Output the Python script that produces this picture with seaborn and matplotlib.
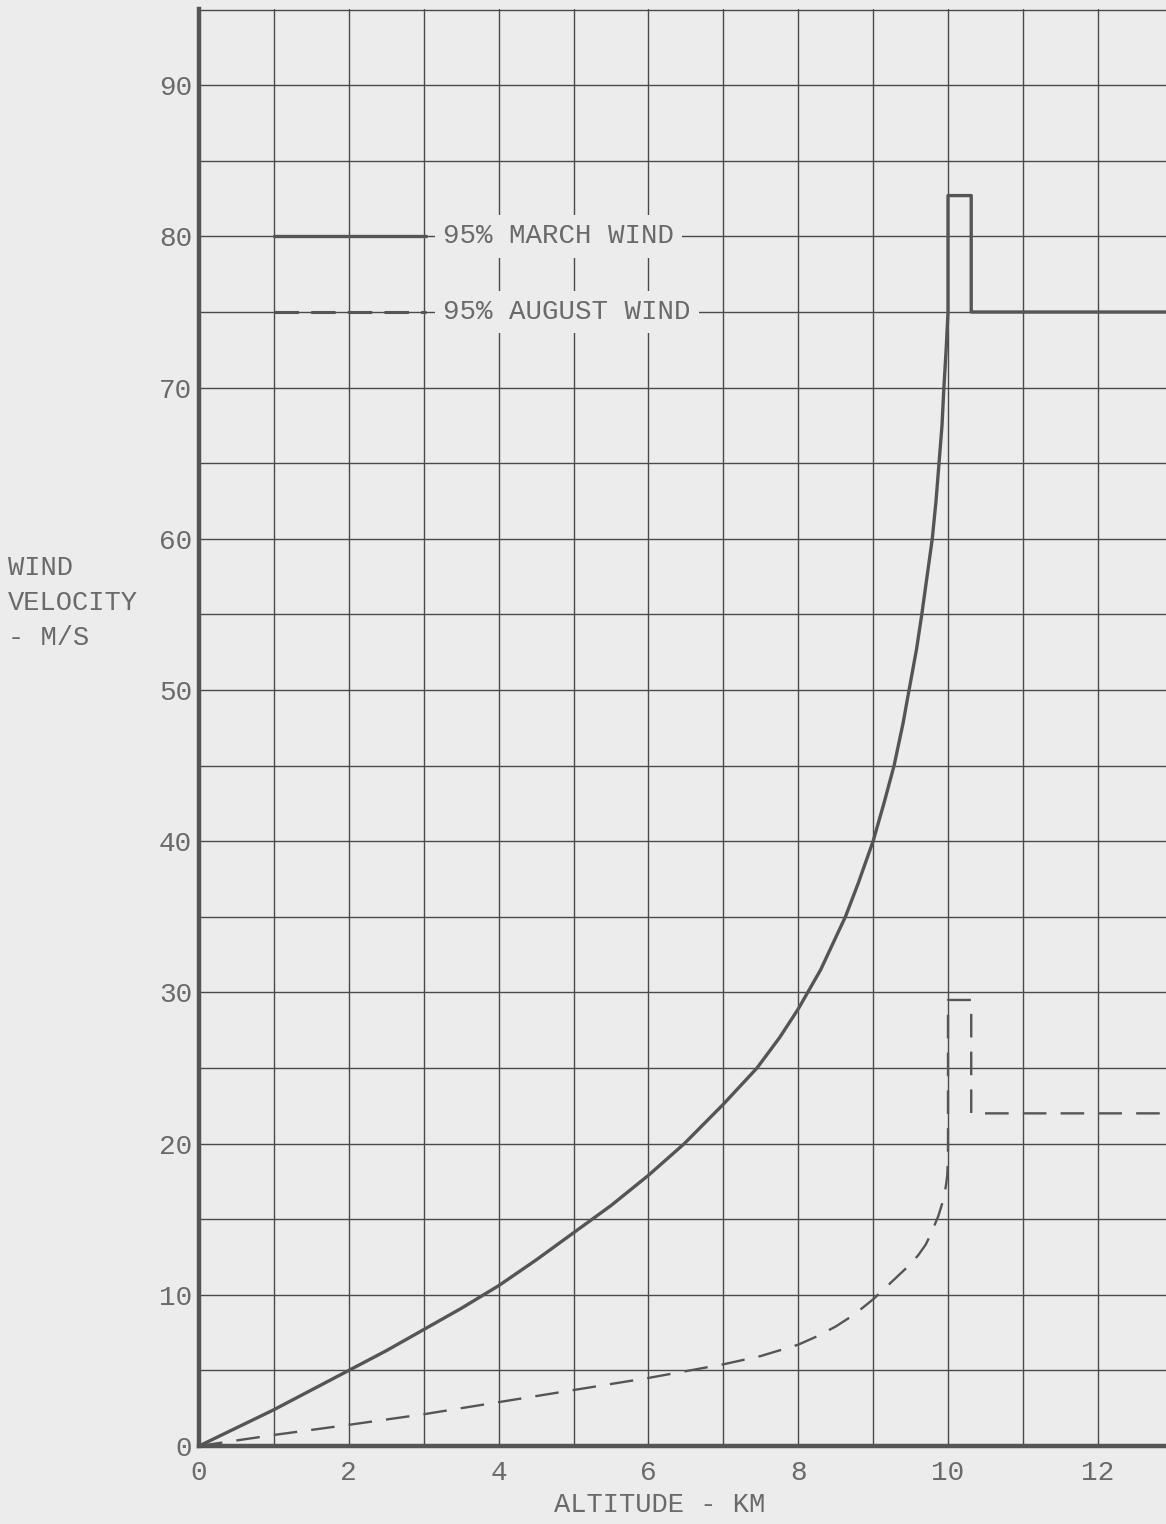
import numpy as np
import pandas as pd
import matplotlib
matplotlib.use("Agg")
import matplotlib.pyplot as plt
import seaborn as sns

# Altitude (km) and 95% wind velocity (m/s) profiles
march_altitude = [0, 0.5, 1, 1.5, 2, 2.5, 3, 3.5, 4, 4.5, 5, 5.5, 6, 6.48, 7, 7.45, 7.75,
                  8, 8.3, 8.63, 8.8, 9, 9.15, 9.28, 9.4, 9.48, 9.58, 9.65, 9.72, 9.79,
                  9.84, 9.88, 9.92, 9.945, 9.975, 10.0, 10.0, 10.31, 10.31, 13.0]
march_velocity = [0, 1.2, 2.4, 3.7, 5.0, 6.3, 7.7, 9.1, 10.6, 12.3, 14.1, 15.9, 17.9, 20,
                  22.6, 25, 27.0, 28.9, 31.5, 35, 37.2, 40, 42.6, 45, 47.8, 50, 52.7, 55,
                  57.5, 60, 62.5, 65, 67.5, 70, 72.5, 75, 82.7, 82.7, 75, 75]

august_altitude = [0, 1, 2, 3, 4, 5, 6, 7, 7.5, 8, 8.25, 8.5, 8.75, 9, 9.15, 9.3, 9.45,
                   9.6, 9.7, 9.76, 9.82, 9.87, 9.92, 9.95, 9.975, 9.99, 10.0, 10.0,
                   10.31, 10.31, 13.0]
august_velocity = [0, 0.73, 1.4, 2.1, 2.9, 3.7, 4.5, 5.4, 5.95, 6.7, 7.25, 7.9, 8.7, 9.7,
                   10.4, 11.1, 11.8, 12.6, 13.3, 13.9, 14.6, 15.2, 16.0, 16.6, 17.3,
                   17.9, 19.0, 29.5, 29.5, 22.0, 22.0]

x_ticks = [0, 2, 4, 6, 8, 10, 12]
y_ticks = [0, 10, 20, 30, 40, 50, 60, 70, 80, 90]
legend_labels = ["95% MARCH WIND", "95% AUGUST WIND"]
legend_levels = [80, 75]

BG = "#ececec"
INK = "#555555"
TXT = "#6a6a6a"

sns.set_theme(style="white")
plt.rcParams["font.family"] = ["Liberation Mono", "DejaVu Sans Mono"]

fig = plt.figure(figsize=(11.66, 15.24), dpi=100, facecolor=BG)
W, H = 1166, 1524
x0, y0, ytop = 199, 1446, 9
ax = fig.add_axes([x0 / W, 1 - y0 / H, 1 - x0 / W, (y0 - ytop) / H])
ax.set_facecolor(BG)

ax.set_xlim(0, (W - x0) / 74.9)
ax.set_ylim(0, (y0 - ytop) / 15.12)

# Grid: 1 km by 5 m/s
ax.set_xticks(x_ticks)
ax.set_xticks(np.arange(1, 13, 2), minor=True)
ax.set_yticks(y_ticks)
ax.set_yticks(np.arange(5, 100, 10), minor=True)
ax.grid(True, which="both", color="#4a4a4a", linewidth=1.0, zorder=1)
ax.set_axisbelow(True)
ax.tick_params(which="both", length=0)
ax.tick_params(axis="y", pad=5, labelsize=20, labelcolor=TXT)
ax.tick_params(axis="x", pad=10, labelsize=20, labelcolor=TXT)

for side in ["top", "right"]:
    ax.spines[side].set_visible(False)
for side in ["left", "bottom"]:
    ax.spines[side].set_color(INK)
    ax.spines[side].set_linewidth(3.2)
    ax.spines[side].set_zorder(5)

march = pd.DataFrame({"alt": march_altitude, "vel": march_velocity})
august = pd.DataFrame({"alt": august_altitude, "vel": august_velocity})

sns.lineplot(data=march, x="alt", y="vel", sort=False, estimator=None, ax=ax,
             color=INK, linewidth=2.4, zorder=4, solid_joinstyle="round")
sns.lineplot(data=august, x="alt", y="vel", sort=False, estimator=None, ax=ax,
             color=INK, linewidth=1.7, zorder=4, linestyle=(0, (10, 6)))

ax.set_xlabel("")
ax.set_ylabel("")

# Key
ax.plot([1.0, 3.03], [legend_levels[0]] * 2, color=INK, linewidth=2.4, zorder=3)
ax.plot([1.0, 3.03], [legend_levels[1]] * 2, color=INK, linewidth=2.2, zorder=3,
        linestyle=(0, (8, 4)))
for label, lvl in zip(legend_labels, legend_levels):
    ax.text(3.26, lvl, label, fontsize=19.8, color=TXT, va="center", ha="left", zorder=6,
            bbox=dict(boxstyle="square,pad=0.3", facecolor=BG, edgecolor="none"))

fig.text(660 / W, 1 - 1505 / H, "ALTITUDE - KM", fontsize=19.5, color=TXT,
         ha="center", va="center")
fig.text(8 / W, 1 - 555 / H, "WIND\nVELOCITY\n- M/S", fontsize=19.5, color=TXT,
         ha="left", va="top", linespacing=1.45)

fig.savefig("out.png", dpi=100, facecolor=BG)
